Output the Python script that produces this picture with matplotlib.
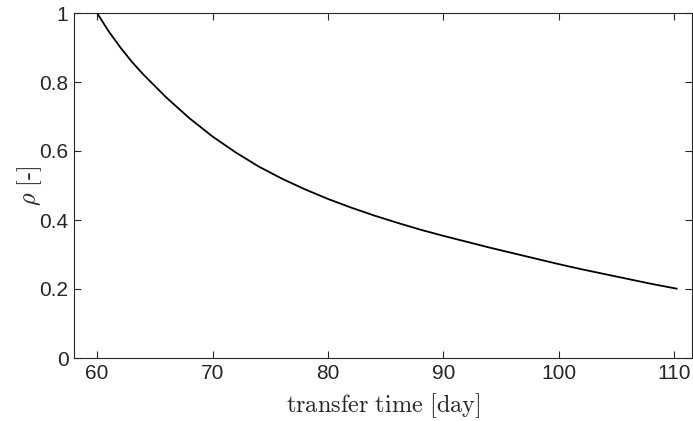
import matplotlib
matplotlib.use("Agg")
import matplotlib.pyplot as plt

# Transfer time [day] and corresponding rho [-]
transfer_time = [60, 61, 62, 63, 64, 66, 68, 70, 72, 74, 76, 78, 80, 82, 84,
                 86, 88, 90, 92, 94, 96, 98, 100, 102, 104, 106, 108, 110.2]
rho = [1.000, 0.947, 0.901, 0.859, 0.822, 0.755, 0.695, 0.642, 0.596, 0.555,
       0.520, 0.489, 0.461, 0.436, 0.413, 0.392, 0.372, 0.354, 0.337, 0.320,
       0.304, 0.288, 0.272, 0.257, 0.243, 0.229, 0.215, 0.201]

x_ticks = [60, 70, 80, 90, 100, 110]
y_ticks = [0, 0.2, 0.4, 0.6, 0.8, 1]

plt.rcParams["mathtext.fontset"] = "cm"
plt.rcParams["font.family"] = ["Liberation Sans", "DejaVu Sans"]

axis_color = (0.15, 0.15, 0.15)

fig = plt.figure(figsize=(6.93, 4.21), dpi=100)
ax = fig.add_axes([74 / 693, 63 / 421, 618 / 693, 345 / 421])

ax.plot(transfer_time, rho, color="black", lw=1.3)

ax.set_xlim(58.0, 111.53)
ax.set_ylim(0, 1)
ax.set_xticks(x_ticks)
ax.set_xticklabels([str(t) for t in x_ticks])
ax.set_yticks(y_ticks)
ax.set_yticklabels(["0", "0.2", "0.4", "0.6", "0.8", "1"])

ax.tick_params(direction="in", top=True, right=True, length=5, width=0.8,
               colors=axis_color, labelsize=15, pad=4)
for s in ax.spines.values():
    s.set_color(axis_color)
    s.set_linewidth(0.8)

ax.set_xlabel(r"$\mathrm{transfer\ time\ [day]}$", fontsize=17.5,
              color=axis_color)
ax.xaxis.set_label_coords(0.5, -0.095)
ax.set_ylabel(r"$\rho\ \mathrm{[\text{-}]}$", fontsize=17.5, color=axis_color)
ax.yaxis.set_label_coords(-0.071, 0.5)
ax.yaxis.label.set_va("center")

fig.savefig("out.png", dpi=100)
